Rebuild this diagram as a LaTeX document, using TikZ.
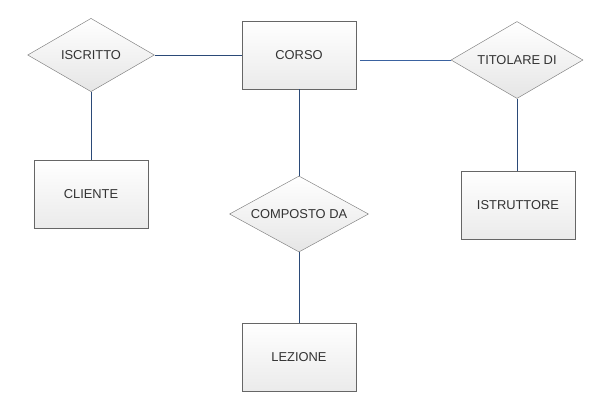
\documentclass[tikz,border=0pt]{standalone}
\usepackage{fontspec}
\setmainfont{Liberation Sans}
\usetikzlibrary{shapes.geometric,shadows}
\definecolor{edgeblue}{HTML}{2B4A78}
\definecolor{linkblue}{HTML}{3A62A0}
\tikzset{
  entity/.style={draw=black!60, top color=white, bottom color=black!8,
    drop shadow={shadow xshift=1pt, shadow yshift=-1pt, opacity=.25},
    minimum width=3.42cm, minimum height=2.04cm, inner sep=0pt,
    font=\fontsize{11}{13}\selectfont, text=black!80},
  relation/.style={diamond, aspect=1.8, draw=black!50, top color=white, bottom color=black!10,
    minimum width=3.8cm, minimum height=2.2cm, inner sep=0pt,
    font=\fontsize{11}{13}\selectfont, text=black!80},
  link/.style={draw=edgeblue, line width=0.7pt}
}
\begin{document}
\begin{tikzpicture}[x=0.03cm,y=-0.03cm]
      \useasboundingbox (0,0) rectangle (614,407);

      \node[relation] at (91,55) (iscritto) {ISCRITTO};
      \node[entity] at (299,55) (corso) {CORSO};
      \node[relation, minimum width=3.96cm, minimum height=2.31cm] at (517,60) (titolare) {TITOLARE DI};
      \node[entity] at (91,194) (cliente) {CLIENTE};
      \node[relation, minimum width=4.17cm, minimum height=2.28cm] at (299,214) (composto) {COMPOSTO DA};
      \node[entity] at (518,205) (istruttore) {ISTRUTTORE};
      \node[entity] at (299,357) (lezione) {LEZIONE};

      % draw edges
      \draw[link] (iscritto) -- (corso);
      \draw[link] (iscritto) -- (cliente);
      \draw[link, draw=linkblue, shorten <=3pt] (corso.east |- titolare) -- (titolare);
      \draw[link] (titolare) -- (titolare |- istruttore.north);
      \draw[link] (corso) -- (composto);
      \draw[link] (composto) -- (lezione);
  \end{tikzpicture}
\end{document}
